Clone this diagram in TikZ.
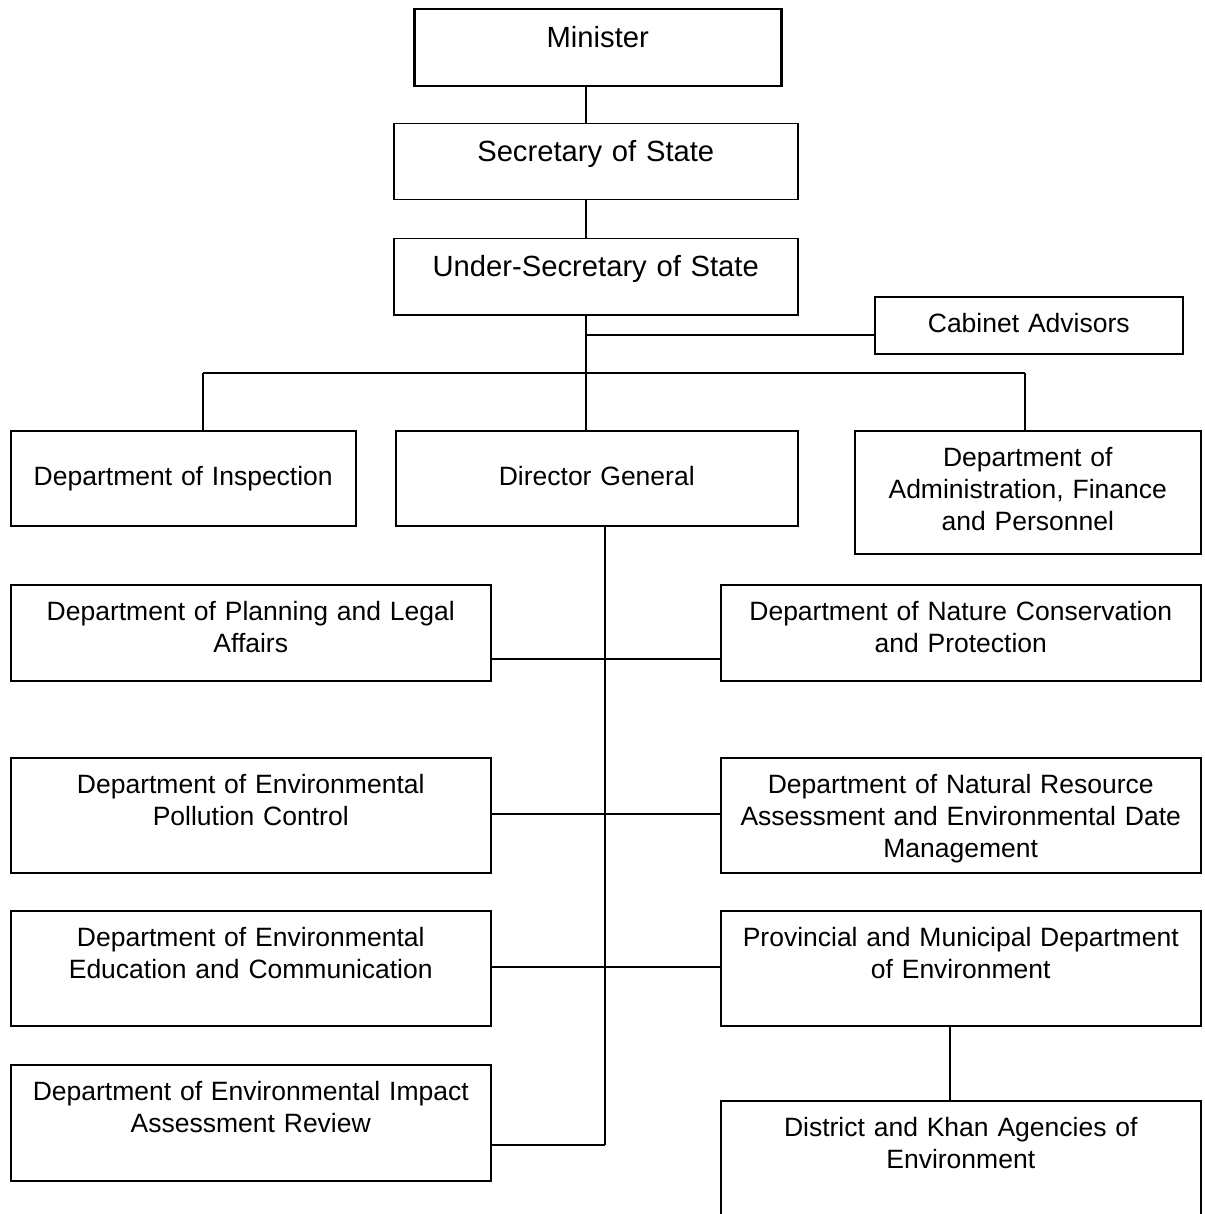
\documentclass[tikz,border=0pt]{standalone}
\usepackage{fontspec}
\setmainfont{Liberation Sans}
\usetikzlibrary{positioning,calc}

\begin{document}
\begin{tikzpicture}[x=0.5pt, y=-0.5pt,
  unit/.style={draw, line width=0.75pt, rectangle, inner sep=0pt, anchor=north west,
    align=center, font=\fontsize{13.25}{16}\selectfont, text height=18pt},
  topunit/.style={unit, font=\fontsize{14.6}{17.5}\selectfont, text height=19pt},
  link/.style={line width=0.75pt}]
\useasboundingbox (0,0) rectangle (1204,1214);

% Top of the ministry
\node[topunit, line width=1.25pt, text width=183.5pt, text depth=19.5pt] (minister) at (413,8) {Minister};
\node[topunit, text width=202pt, text depth=19pt] (secretary) at (393,123) {Secretary of State};
\node[topunit, text width=202pt, text depth=19pt] (undersec) at (393,238) {Under-Secretary of State};
\node[unit, text width=154pt, text depth=10.5pt] (advisors) at (874,296) {Cabinet Advisors};

% Second level
\node[unit, text width=172.5pt, text height=27.5pt, text depth=20pt] (inspection) at (10,430) {Department of Inspection};
\node[unit, text width=201pt, text height=27.5pt, text depth=20pt] (director) at (395,430) {Director General};
\node[unit, text width=173pt, text depth=43.5pt] (admin) at (854,430) {Department of\\Administration, Finance\\and Personnel};

% Departments under the Director General
\node[unit, text width=240pt, text depth=30pt] (planning) at (10,584) {Department of Planning and Legal\\Affairs};
\node[unit, text width=240pt, text depth=30pt] (nature) at (720,584) {Department of Nature Conservation\\and Protection};
\node[unit, text width=240pt, text depth=39.5pt] (pollution) at (10,757) {Department of Environmental\\Pollution Control};
\node[unit, text width=240pt, text depth=39.5pt] (resource) at (720,757) {Department of Natural Resource\\Assessment and Environmental Date\\Management};
\node[unit, text width=240pt, text depth=39.5pt] (education) at (10,910) {Department of Environmental\\Education and Communication};
\node[unit, text width=240pt, text depth=39.5pt] (provincial) at (720,910) {Provincial and Municipal Department\\of Environment};
\node[unit, text width=240pt, text depth=40pt] (eia) at (10,1064) {Department of Environmental Impact\\Assessment Review};
\node[unit, text width=240pt, text depth=42pt] (district) at (720,1100) {District and Khan Agencies of\\Environment};

% Junction points
\coordinate (spine) at (586,373);
\coordinate (advjoin) at (586,335);
\coordinate (leftdrop) at (203,373);
\coordinate (rightdrop) at (1025,373);
\coordinate (dgspine) at (605,1145);

% Connections
\draw[link] (minister.south -| spine) -- (secretary.north -| spine);
\draw[link] (secretary.south -| spine) -- (undersec.north -| spine);
\draw[link] (undersec.south -| spine) -- (spine);
\draw[link] (advjoin) -- (advjoin -| advisors.west);
\draw[link] (leftdrop) -- (rightdrop);
\draw[link] (leftdrop) -- (inspection.north -| leftdrop);
\draw[link] (spine) -- (director.north -| spine);
\draw[link] (rightdrop) -- (admin.north -| rightdrop);
\draw[link] (director.south -| dgspine) -- (dgspine);
\draw[link] (planning.east |- 0,659) -- (nature.west |- 0,659);
\draw[link] (pollution.east |- 0,814) -- (resource.west |- 0,814);
\draw[link] (education.east |- 0,967) -- (provincial.west |- 0,967);
\draw[link] (eia.east |- dgspine) -- (dgspine);
\draw[link] (provincial.south -| 950,0) -- (district.north -| 950,0);

\end{tikzpicture}
\end{document}
